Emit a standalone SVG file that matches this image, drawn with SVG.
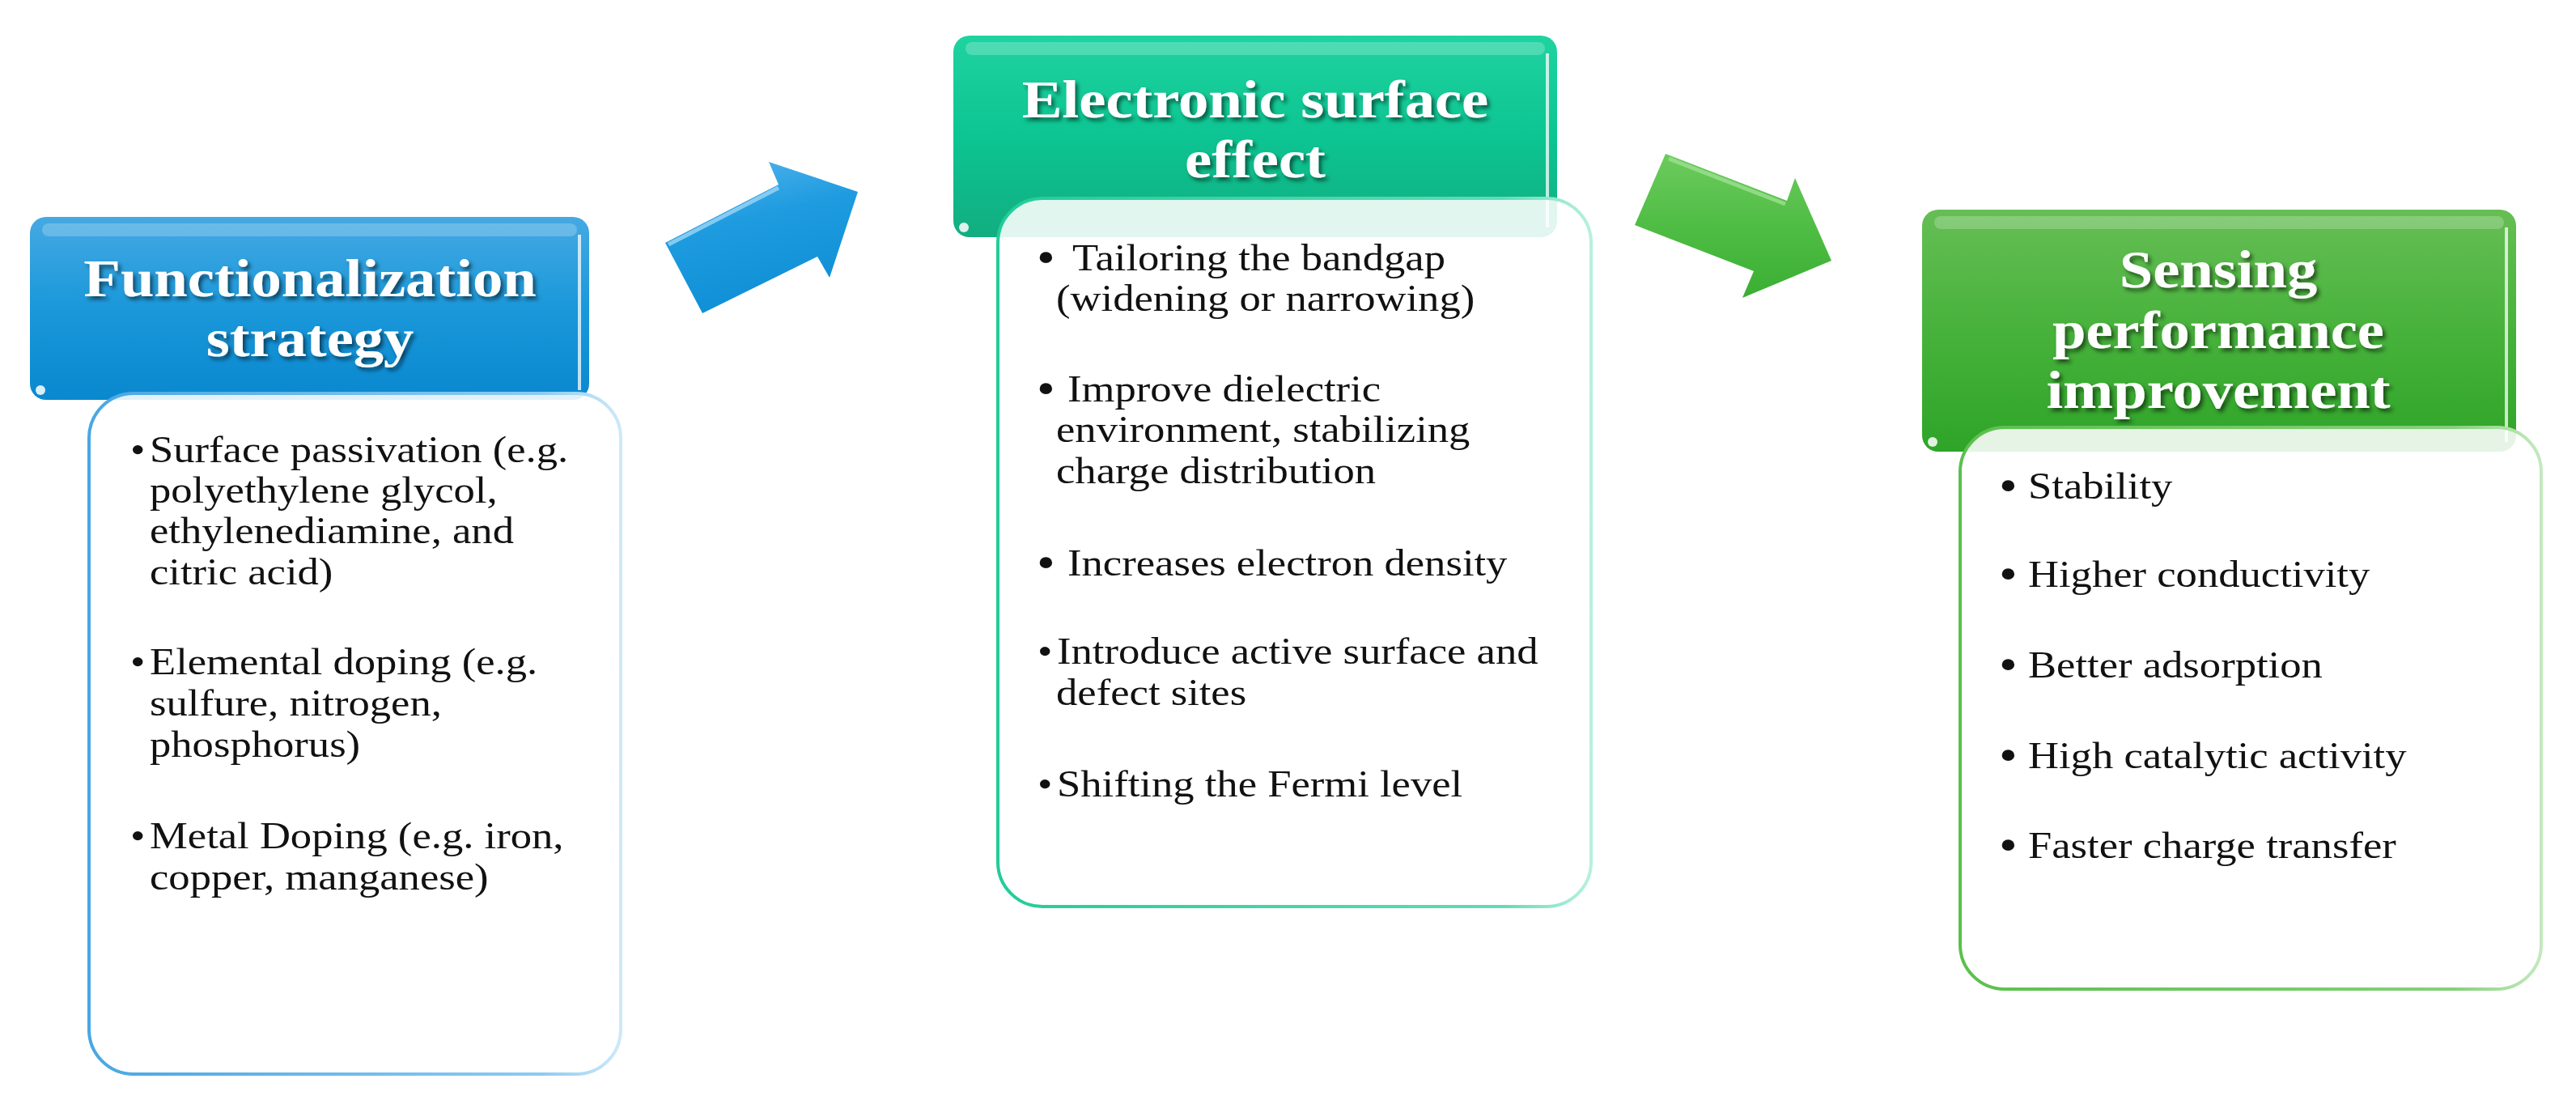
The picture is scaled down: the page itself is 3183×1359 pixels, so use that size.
<svg xmlns="http://www.w3.org/2000/svg" width="3183" height="1359" viewBox="0 0 3183 1359">
<defs>
  <linearGradient id="gBlue" x1="0" y1="0" x2="0" y2="1">
    <stop offset="0" stop-color="#45a9e3"/><stop offset="0.5" stop-color="#1a98da"/><stop offset="1" stop-color="#0a88cf"/>
  </linearGradient>
  <linearGradient id="gTeal" x1="0" y1="0" x2="0" y2="1">
    <stop offset="0" stop-color="#1fd3a0"/><stop offset="0.5" stop-color="#0cc592"/><stop offset="1" stop-color="#12ad80"/>
  </linearGradient>
  <linearGradient id="gGreen" x1="0" y1="0" x2="0" y2="1">
    <stop offset="0" stop-color="#66be55"/><stop offset="0.5" stop-color="#47b23b"/><stop offset="1" stop-color="#2ea428"/>
  </linearGradient>
  <linearGradient id="sBlue" x1="0" y1="0" x2="1" y2="0">
    <stop offset="0" stop-color="#49a7e2"/><stop offset="0.85" stop-color="#8ccbf0"/><stop offset="1" stop-color="#cde9f9"/>
  </linearGradient>
  <linearGradient id="sTeal" x1="0" y1="0" x2="1" y2="0">
    <stop offset="0" stop-color="#22cc98"/><stop offset="0.85" stop-color="#5fdcb6"/><stop offset="1" stop-color="#b8f0e0"/>
  </linearGradient>
  <linearGradient id="sGreen" x1="0" y1="0" x2="1" y2="0">
    <stop offset="0" stop-color="#5cbf4e"/><stop offset="0.85" stop-color="#86d07b"/><stop offset="1" stop-color="#c4e9bf"/>
  </linearGradient>
  <linearGradient id="aBlue" x1="0" y1="0" x2="0.3" y2="1">
    <stop offset="0" stop-color="#58b6ec"/><stop offset="0.45" stop-color="#1f9ce0"/><stop offset="1" stop-color="#0f8fd6"/>
  </linearGradient>
  <linearGradient id="aGreen" x1="0" y1="0" x2="0" y2="1">
    <stop offset="0" stop-color="#6ccb5e"/><stop offset="0.5" stop-color="#4fbd44"/><stop offset="1" stop-color="#3aae33"/>
  </linearGradient>
  <filter id="shadow" x="-10%" y="-30%" width="120%" height="160%">
    <feDropShadow dx="3" dy="4" stdDeviation="2.5" flood-color="#000" flood-opacity="0.55"/>
  </filter>
</defs>
<style>
  .hdr { font-family: "Liberation Serif", "Times New Roman", serif; font-weight: bold; font-size: 66px; fill: #ffffff; text-anchor: middle; filter: url(#shadow); }
  .txt { font-family: "Liberation Serif", "Times New Roman", serif; font-size: 47px; fill: #111111; }
  .bul { font-family: "Liberation Serif", "Times New Roman", serif; font-size: 58px; fill: #111111; }
  .body { fill: #ffffff; fill-opacity: 0.88; stroke-width: 4; }
  .hl-top { fill: #ffffff; fill-opacity: 0.22; }
  .hl-right { stroke: #ffffff; stroke-opacity: 0.75; stroke-width: 4; fill: none; }
  .blip { fill: #ffffff; fill-opacity: 0.85; }
</style>

<g id="connectors">
  <polygon id="arrow-1" points="822,300 962,228 950,200 1060,237 1025,343 1010,317 868,387" fill="url(#aBlue)"/>
  <polyline points="826,302 962,232" stroke="#9fd6f5" stroke-width="5" fill="none" stroke-opacity="0.8"/>
  <polygon id="arrow-2" points="2058,190 2208,248 2218,220 2263,322 2153,368 2167,335 2020,278" fill="url(#aGreen)"/>
  <polyline points="2062,196 2206,252" stroke="#9ee092" stroke-width="5" fill="none" stroke-opacity="0.8"/>
</g>

<g id="node-functionalization">
  <rect x="37" y="268" width="691" height="226" rx="20" fill="url(#gBlue)"/>
  <rect x="52" y="276" width="661" height="16" rx="8" class="hl-top"/>
  <line x1="716" y1="290" x2="716" y2="482" class="hl-right"/>
  <circle cx="50" cy="482" r="6" class="blip"/>
  <text class="hdr" transform="translate(383,366) scale(1.13,1)">Functionalization</text>
  <text class="hdr" transform="translate(383,440) scale(1.13,1)">strategy</text>
  <rect x="110" y="486" width="657" height="841" rx="55" class="body" stroke="url(#sBlue)"/>
  <text class="txt" transform="translate(161,571) scale(1.12,1)">•</text>
  <text class="txt" transform="translate(185,571) scale(1.12,1)">Surface passivation (e.g.</text>
  <text class="txt" transform="translate(185,621) scale(1.12,1)">polyethylene glycol,</text>
  <text class="txt" transform="translate(185,671) scale(1.12,1)">ethylenediamine, and</text>
  <text class="txt" transform="translate(185,722) scale(1.12,1)">citric acid)</text>
  <text class="txt" transform="translate(161,833) scale(1.12,1)">•</text>
  <text class="txt" transform="translate(185,833) scale(1.12,1)">Elemental doping (e.g.</text>
  <text class="txt" transform="translate(185,884) scale(1.12,1)">sulfure, nitrogen,</text>
  <text class="txt" transform="translate(185,935) scale(1.12,1)">phosphorus)</text>
  <text class="txt" transform="translate(161,1048) scale(1.12,1)">•</text>
  <text class="txt" transform="translate(185,1048) scale(1.12,1)">Metal Doping (e.g. iron,</text>
  <text class="txt" transform="translate(185,1099) scale(1.12,1)">copper, manganese)</text>
</g>

<g id="node-electronic">
  <rect x="1178" y="44" width="746" height="249" rx="20" fill="url(#gTeal)"/>
  <rect x="1193" y="52" width="716" height="16" rx="8" class="hl-top"/>
  <line x1="1912" y1="66" x2="1912" y2="281" class="hl-right"/>
  <circle cx="1191" cy="281" r="6" class="blip"/>
  <text class="hdr" transform="translate(1551,145) scale(1.13,1)">Electronic surface</text>
  <text class="hdr" transform="translate(1551,219) scale(1.13,1)">effect</text>
  <rect x="1233" y="245" width="733" height="875" rx="55" class="body" stroke="url(#sTeal)"/>
  <text class="bul" transform="translate(1281,337) scale(1.12,1)">•</text>
  <text class="txt" transform="translate(1325,334) scale(1.12,1)">Tailoring the bandgap</text>
  <text class="txt" transform="translate(1305,384) scale(1.12,1)">(widening or narrowing)</text>
  <text class="bul" transform="translate(1281,499) scale(1.12,1)">•</text>
  <text class="txt" transform="translate(1319,496) scale(1.12,1)">Improve dielectric</text>
  <text class="txt" transform="translate(1305,546) scale(1.12,1)">environment, stabilizing</text>
  <text class="txt" transform="translate(1305,597) scale(1.12,1)">charge distribution</text>
  <text class="bul" transform="translate(1281,714) scale(1.12,1)">•</text>
  <text class="txt" transform="translate(1319,711) scale(1.12,1)">Increases electron density</text>
  <text class="txt" transform="translate(1282,820) scale(1.12,1)">•</text>
  <text class="txt" transform="translate(1306,820) scale(1.12,1)">Introduce active surface and</text>
  <text class="txt" transform="translate(1305,871) scale(1.12,1)">defect sites</text>
  <text class="txt" transform="translate(1282,984) scale(1.12,1)">•</text>
  <text class="txt" transform="translate(1306,984) scale(1.12,1)">Shifting the Fermi level</text>
</g>

<g id="node-sensing">
  <rect x="2375" y="259" width="734" height="299" rx="20" fill="url(#gGreen)"/>
  <rect x="2390" y="267" width="704" height="16" rx="8" class="hl-top"/>
  <line x1="3097" y1="281" x2="3097" y2="546" class="hl-right"/>
  <circle cx="2388" cy="546" r="6" class="blip"/>
  <text class="hdr" transform="translate(2741,355) scale(1.13,1)">Sensing</text>
  <text class="hdr" transform="translate(2741,430) scale(1.13,1)">performance</text>
  <text class="hdr" transform="translate(2741,504) scale(1.13,1)">improvement</text>
  <rect x="2422" y="528" width="718" height="694" rx="55" class="body" stroke="url(#sGreen)"/>
  <text class="bul" transform="translate(2470,619) scale(1.12,1)">•</text>
  <text class="txt" transform="translate(2506,616) scale(1.12,1)">Stability</text>
  <text class="bul" transform="translate(2470,728) scale(1.12,1)">•</text>
  <text class="txt" transform="translate(2506,725) scale(1.12,1)">Higher conductivity</text>
  <text class="bul" transform="translate(2470,840) scale(1.12,1)">•</text>
  <text class="txt" transform="translate(2506,837) scale(1.12,1)">Better adsorption</text>
  <text class="bul" transform="translate(2470,952) scale(1.12,1)">•</text>
  <text class="txt" transform="translate(2506,949) scale(1.12,1)">High catalytic activity</text>
  <text class="bul" transform="translate(2470,1063) scale(1.12,1)">•</text>
  <text class="txt" transform="translate(2506,1060) scale(1.12,1)">Faster charge transfer</text>
</g>
</svg>
